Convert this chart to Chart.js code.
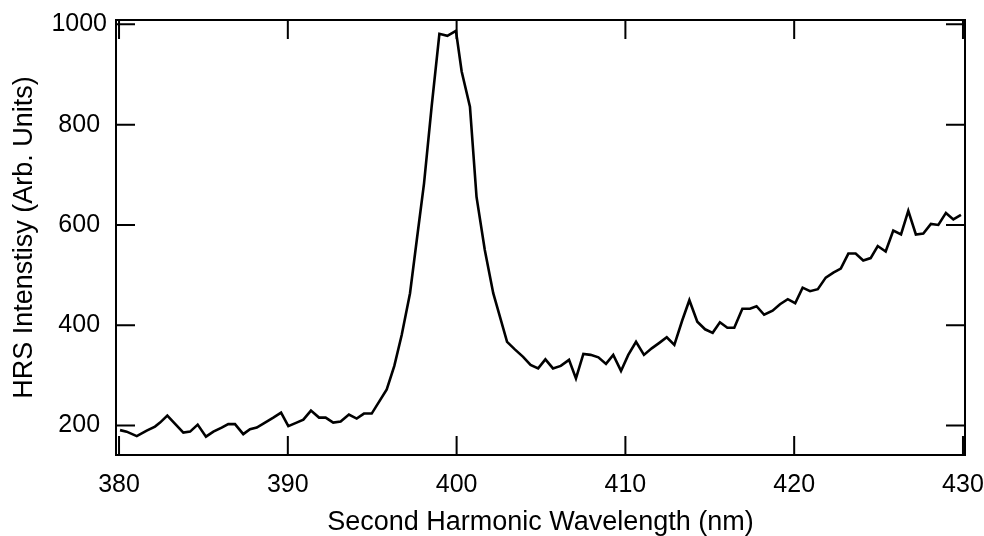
<!DOCTYPE html>
<html lang="en">
<head>
    <meta charset="UTF-8">
    <title>HRS Intensity</title>
    <style>
        body {
            margin: 0;
            padding: 0;
            background-color: #fff;
        }

        #hrsChart {
            display: block;
        }
    </style>
    <script src="https://cdn.jsdelivr.net/npm/chart.js"></script>
</head>
<body>

<canvas id="hrsChart" width="984" height="536"></canvas>

<script>
    // wavelength (nm)
    const wavelength = [
        380.06, 380.45, 381.05, 381.64, 382.13, 382.43, 382.86, 383.81, 384.21, 384.66,
        385.15, 385.59, 386.08, 386.47, 386.87, 387.36, 387.76, 388.16, 388.65, 389.14,
        389.60, 390.03, 390.52, 390.92, 391.37, 391.85, 392.24, 392.69, 393.13, 393.62,
        394.08, 394.51, 394.97, 395.86, 396.31, 396.75, 397.24, 397.64, 398.07, 398.52,
        398.98, 399.45, 399.96, 400.30, 400.79, 401.18, 401.67, 402.17, 402.99, 403.45,
        403.94, 404.38, 404.83, 405.26, 405.71, 406.17, 406.66, 407.07, 407.51, 407.94,
        408.40, 408.85, 409.28, 409.74, 410.17, 410.63, 411.10, 411.56, 412.01, 412.45,
        412.90, 413.37, 413.79, 414.26, 414.72, 415.17, 415.60, 416.04, 416.45, 416.93,
        417.38, 417.77, 418.22, 418.72, 419.16, 419.62, 420.06, 420.50, 420.94, 421.40,
        421.87, 422.32, 422.76, 423.21, 423.64, 424.09, 424.53, 424.95, 425.42, 425.87,
        426.33, 426.76, 427.21, 427.65, 428.10, 428.54, 428.99, 429.43, 429.88
    ];

    // HRS intensity (arb. units)
    const intensity = [
        191, 188, 179, 190, 198, 206, 220, 186, 188, 202,
        178, 188, 196, 203, 203, 183, 193, 196, 206, 216,
        226, 199, 206, 212, 230, 216, 216, 206, 208, 222,
        214, 224, 224, 272, 319, 381, 464, 570, 683, 836,
        981, 977, 987, 906, 836, 656, 550, 464, 367, 352,
        337, 321, 314, 332, 314, 319, 331, 294, 343, 341,
        336, 323, 341, 309, 341, 367, 341, 354, 365, 376,
        361, 410, 450, 407, 392, 385, 406, 395, 395, 433,
        433, 438, 421, 429, 442, 452, 444, 475, 468, 472,
        495, 505, 513, 543, 543, 529, 534, 558, 547, 589,
        581, 628, 581, 583, 602, 600, 624, 611, 620
    ];

    const xTicks = [380, 390, 400, 410, 420, 430];
    const yTicks = [200, 400, 600, 800, 1000];

    const TICK_LEN = 19;

    // frame round the plot and inward ticks on all four sides
    const frameTicks = {
        id: 'frameTicks',
        afterDraw(chart) {
            const ctx = chart.ctx;
            const a = chart.chartArea;
            const x = chart.scales.x;
            const y = chart.scales.y;
            ctx.save();
            ctx.strokeStyle = '#000';
            ctx.lineWidth = 2;
            ctx.beginPath();
            x.ticks.forEach(function (t) {
                const px = x.getPixelForValue(t.value);
                ctx.moveTo(px, a.bottom);
                ctx.lineTo(px, a.bottom - TICK_LEN);
                ctx.moveTo(px, a.top);
                ctx.lineTo(px, a.top + TICK_LEN);
            });
            y.ticks.forEach(function (t) {
                const py = y.getPixelForValue(t.value);
                ctx.moveTo(a.left, py);
                ctx.lineTo(a.left + TICK_LEN, py);
                ctx.moveTo(a.right, py);
                ctx.lineTo(a.right - TICK_LEN, py);
            });
            ctx.stroke();
            ctx.strokeRect(a.left, a.top, a.right - a.left, a.bottom - a.top);
            ctx.restore();
        }
    };

    Chart.defaults.font.family = "'Liberation Sans', Arial, sans-serif";
    Chart.defaults.color = '#000';

    const points = wavelength.map(function (w, i) {
        return { x: w, y: intensity[i] };
    });

    const ctx = document.getElementById('hrsChart').getContext('2d');
    new Chart(ctx, {
        type: 'line',
        data: {
            datasets: [{
                data: points,
                borderColor: '#000',
                borderWidth: 2.6,
                pointRadius: 0,
                tension: 0,
                fill: false
            }]
        },
        options: {
            responsive: false,
            animation: false,
            devicePixelRatio: 1,
            layout: {
                padding: { top: 20, right: 19, left: 0, bottom: 0 }
            },
            plugins: {
                legend: { display: false },
                tooltip: { enabled: false }
            },
            scales: {
                x: {
                    type: 'linear',
                    min: 379.82,
                    max: 430.12,
                    afterBuildTicks: function (scale) {
                        scale.ticks = xTicks.map(function (v) { return { value: v }; });
                    },
                    afterFit: function (scale) {
                        scale.height = 81;
                        scale.paddingLeft = 0;
                        scale.paddingRight = 0;
                    },
                    grid: { display: false, drawTicks: false },
                    border: { display: false },
                    ticks: {
                        font: { size: 25 },
                        padding: 15,
                        maxRotation: 0,
                        autoSkip: false,
                        callback: function (v) { return String(v); }
                    },
                    title: {
                        display: true,
                        text: 'Second Harmonic Wavelength (nm)',
                        font: { size: 27, lineHeight: 1 },
                        padding: { top: 0, bottom: 0 }
                    }
                },
                y: {
                    min: 141.4,
                    max: 1008.6,
                    afterBuildTicks: function (scale) {
                        scale.ticks = yTicks.map(function (v) { return { value: v }; });
                    },
                    afterFit: function (scale) {
                        scale.width = 116;
                        scale.paddingTop = 0;
                        scale.paddingBottom = 0;
                    },
                    grid: { display: false, drawTicks: false },
                    border: { display: false },
                    ticks: {
                        font: { size: 25 },
                        padding: 9,
                        crossAlign: 'center',
                        callback: function (v) { return String(v); }
                    },
                    title: {
                        display: true,
                        text: 'HRS Intenstisy (Arb. Units)',
                        font: { size: 27, lineHeight: 1 },
                        padding: { top: 11, bottom: 0 }
                    }
                }
            }
        },
        plugins: [frameTicks]
    });
</script>

</body>
</html>
